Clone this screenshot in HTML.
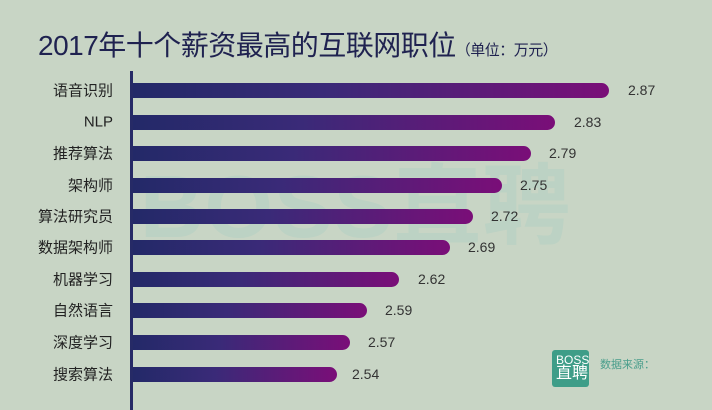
<!DOCTYPE html>
<html><head><meta charset="utf-8"><style>
body{margin:0;width:712px;height:410px;background:#c8d5c5;overflow:hidden;position:relative;font-family:"Liberation Sans","Noto Sans CJK SC",sans-serif}
.t{position:absolute;left:38px;top:24px;font-size:28px;color:#1f2250;letter-spacing:-0.5px;white-space:nowrap}
.t small{font-size:15px}
.wm{position:absolute;left:140px;top:136px;font-size:88px;font-weight:bold;color:#bcd2c4;letter-spacing:1px;white-space:nowrap}
.ax{position:absolute;left:130px;top:71px;width:3px;height:339px;background:#262a66}
.bar{position:absolute;left:133px;height:15px;border-radius:0 8px 8px 0;background:linear-gradient(90deg,#232968,#3a2a78 40%,#7a0e78)}
.l{position:absolute;right:599px;font-size:15px;color:#222;white-space:nowrap;transform:translateY(-50%)}
.v{position:absolute;font-size:14px;color:#333;transform:translateY(-50%)}
.logo{position:absolute;left:552px;top:350px;width:37px;height:37px;background:#3e9d88;border-radius:3px;color:#fff;font-size:12px;line-height:14px;padding:3px 0 0 4px;box-sizing:border-box;overflow:hidden}
.src{position:absolute;left:600px;top:356px;font-size:11px;color:#4a9e8c}
</style></head><body>
<div class="t">2017年十个薪资最高的互联网职位<small>（单位：万元）</small></div>
<div class="wm">BOSS直聘</div>
<div class="ax"></div>
<div class="bar" style="top:83px;width:476px"></div><div class="l" style="top:90px">语音识别</div><div class="v" style="top:90px;left:628px">2.87</div>
<div class="bar" style="top:115px;width:422px"></div><div class="l" style="top:122px">NLP</div><div class="v" style="top:122px;left:574px">2.83</div>
<div class="bar" style="top:146px;width:398px"></div><div class="l" style="top:153px">推荐算法</div><div class="v" style="top:153px;left:549px">2.79</div>
<div class="bar" style="top:178px;width:369px"></div><div class="l" style="top:185px">架构师</div><div class="v" style="top:185px;left:520px">2.75</div>
<div class="bar" style="top:209px;width:340px"></div><div class="l" style="top:216px">算法研究员</div><div class="v" style="top:216px;left:491px">2.72</div>
<div class="bar" style="top:240px;width:317px"></div><div class="l" style="top:247px">数据架构师</div><div class="v" style="top:247px;left:468px">2.69</div>
<div class="bar" style="top:272px;width:266px"></div><div class="l" style="top:279px">机器学习</div><div class="v" style="top:279px;left:418px">2.62</div>
<div class="bar" style="top:303px;width:234px"></div><div class="l" style="top:310px">自然语言</div><div class="v" style="top:310px;left:385px">2.59</div>
<div class="bar" style="top:335px;width:217px"></div><div class="l" style="top:342px">深度学习</div><div class="v" style="top:342px;left:368px">2.57</div>
<div class="bar" style="top:367px;width:204px"></div><div class="l" style="top:374px">搜索算法</div><div class="v" style="top:374px;left:352px">2.54</div>
<div class="logo">BOSS<br><span style="font-size:16px">直聘</span></div>
<div class="src">数据来源：</div>
</body></html>
